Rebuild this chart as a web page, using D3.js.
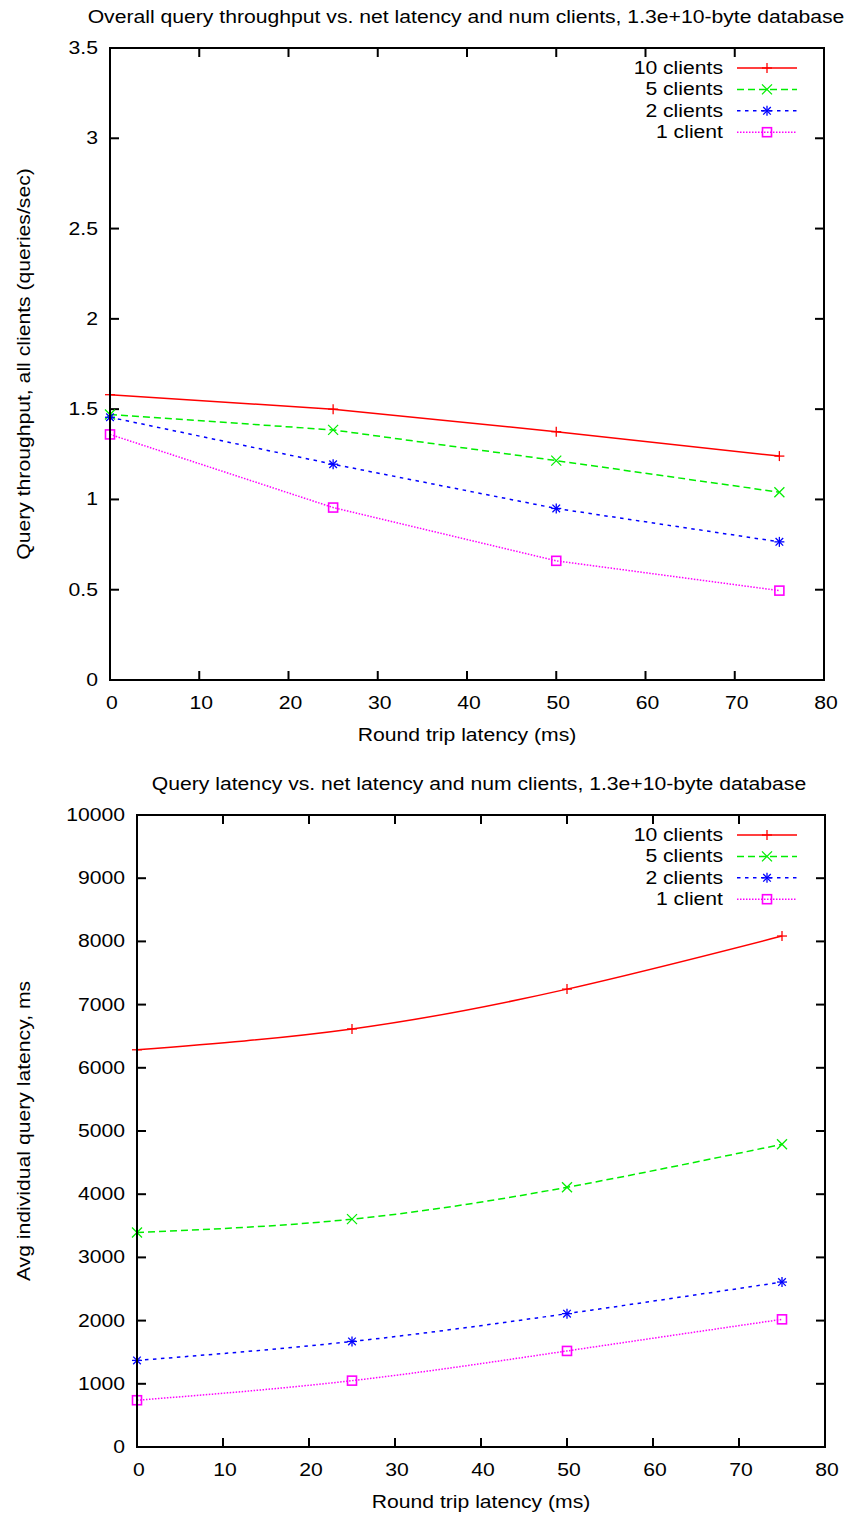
<!DOCTYPE html>
<html>
<head>
<meta charset="utf-8">
<script src="https://cdn.jsdelivr.net/npm/d3@7"></script>
<style>
  body { margin: 0; background: #fff; }
  text { font-family: "Liberation Sans", Arial, Helvetica, sans-serif; fill: #000; font-size: 17.5px; }
</style>
</head>
<body>
<div id="chart"></div>
<script>
// data
const latencies = [0, 25, 50, 75];
const seriesNames = ["10 clients", "5 clients", "2 clients", "1 client"];

const throughput10 = [1.58, 1.50, 1.375, 1.24];
const throughput5 = [1.47, 1.385, 1.215, 1.04];
const throughput2 = [1.455, 1.195, 0.95, 0.765];
const throughput1 = [1.36, 0.955, 0.66, 0.495];

const queryLat10 = [6285, 6615, 7245, 8085];
const queryLat5 = [3395, 3605, 4110, 4790];
const queryLat2 = [1370, 1670, 2110, 2610];
const queryLat1 = [740, 1050, 1520, 2020];

const xTicks = [0, 10, 20, 30, 40, 50, 60, 70, 80];
const yTicksTop = [0, 0.5, 1, 1.5, 2, 2.5, 3, 3.5];
const yTicksBottom = [0, 1000, 2000, 3000, 4000, 5000, 6000, 7000, 8000, 9000, 10000];

const styles = [
  { color: "#ff0000", dash: null, marker: "plus" },
  { color: "#00ee00", dash: "7,4", marker: "cross" },
  { color: "#0000ff", dash: "3.5,4.5", marker: "star" },
  { color: "#ff00ff", dash: "1.5,1.5", marker: "square" }
];

// the original text is a bit wider than it is tall
const stretch = 1.21;

const svg = d3.select("#chart").append("svg")
  .attr("width", 849)
  .attr("height", 1515);

function addText(g, x, y, str, anchor, rot) {
  return g.append("text")
    .attr("transform", `translate(${x},${y})` + (rot ? ` rotate(${rot})` : "") + ` scale(${stretch},1)`)
    .attr("text-anchor", anchor)
    .text(str);
}

function drawMarker(g, type, x, y, color) {
  const s = 5;
  const m = g.append("g").attr("transform", `translate(${x},${y})`)
    .attr("stroke", color).attr("stroke-width", 1.3).attr("fill", "none");
  if (type === "plus" || type === "star") {
    m.append("line").attr("x1", -s).attr("x2", s).attr("y1", 0).attr("y2", 0);
    m.append("line").attr("x1", 0).attr("x2", 0).attr("y1", -s).attr("y2", s);
  }
  if (type === "cross" || type === "star") {
    const k = type === "star" ? 3.8 : 5;
    m.append("line").attr("x1", -k).attr("x2", k).attr("y1", -k).attr("y2", k);
    m.append("line").attr("x1", -k).attr("x2", k).attr("y1", k).attr("y2", -k);
  }
  if (type === "square") {
    m.append("rect").attr("x", -4.5).attr("y", -4.5).attr("width", 9).attr("height", 9)
      .attr("stroke-width", 1.6);
  }
}

function drawChart(opts) {
  const { left, right, top, bottom, yMax, yTicks, series, title, titleX, yLabel, curve, legendY } = opts;

  const x = d3.scaleLinear().domain([0, 80]).range([left, right]);
  const y = d3.scaleLinear().domain([0, yMax]).range([bottom, top]);

  const g = svg.append("g");

  addText(g, titleX, top - 25, title, "middle");

  // ticks, inner on all sides
  const tickLen = 9;
  xTicks.forEach(t => {
    g.append("line").attr("x1", x(t)).attr("x2", x(t)).attr("y1", bottom).attr("y2", bottom - tickLen)
      .attr("stroke", "#000").attr("stroke-width", 2);
    g.append("line").attr("x1", x(t)).attr("x2", x(t)).attr("y1", top).attr("y2", top + tickLen)
      .attr("stroke", "#000").attr("stroke-width", 2);
    addText(g, x(t) + 2, bottom + 29, t, "middle");
  });
  yTicks.forEach(t => {
    g.append("line").attr("x1", left).attr("x2", left + tickLen).attr("y1", y(t)).attr("y2", y(t))
      .attr("stroke", "#000").attr("stroke-width", 2);
    g.append("line").attr("x1", right).attr("x2", right - tickLen).attr("y1", y(t)).attr("y2", y(t))
      .attr("stroke", "#000").attr("stroke-width", 2);
    addText(g, left - 12, y(t) + 6, t, "end");
  });

  addText(g, (left + right) / 2, bottom + 61, "Round trip latency (ms)", "middle");
  addText(g, 30, (top + bottom) / 2, yLabel, "middle", -90);

  // series
  const line = d3.line().x(d => x(d[0])).y(d => y(d[1])).curve(curve);
  series.forEach((vals, i) => {
    const st = styles[i];
    const pts = latencies.map((l, j) => [l, vals[j]]);
    g.append("path").datum(pts)
      .attr("d", line)
      .attr("fill", "none")
      .attr("stroke", st.color)
      .attr("stroke-width", 1.5)
      .attr("stroke-dasharray", st.dash);
    pts.forEach(p => drawMarker(g, st.marker, x(p[0]), y(p[1]), st.color));
  });

  // legend
  seriesNames.forEach((name, i) => {
    const st = styles[i];
    const ly = legendY + i * 21.4;
    addText(g, 723, ly + 6, name, "end");
    g.append("line").attr("x1", 737).attr("x2", 797).attr("y1", ly).attr("y2", ly)
      .attr("stroke", st.color).attr("stroke-width", 1.5).attr("stroke-dasharray", st.dash);
    drawMarker(g, st.marker, 767, ly, st.color);
  });

  // frame
  g.append("rect")
    .attr("x", left).attr("y", top)
    .attr("width", right - left).attr("height", bottom - top)
    .attr("fill", "none").attr("stroke", "#000").attr("stroke-width", 2);
}

drawChart({
  left: 110, right: 824, top: 48, bottom: 680,
  yMax: 3.5, yTicks: yTicksTop,
  series: [throughput10, throughput5, throughput2, throughput1],
  title: "Overall query throughput vs. net latency and num clients, 1.3e+10-byte database",
  titleX: 466,
  yLabel: "Query throughput, all clients (queries/sec)",
  curve: d3.curveLinear,
  legendY: 68
});

drawChart({
  left: 137, right: 825, top: 815, bottom: 1447,
  yMax: 10000, yTicks: yTicksBottom,
  series: [queryLat10, queryLat5, queryLat2, queryLat1],
  title: "Query latency vs. net latency and num clients, 1.3e+10-byte database",
  titleX: 479,
  yLabel: "Avg individual query latency, ms",
  curve: d3.curveNatural,
  legendY: 835
});
</script>
</body>
</html>
